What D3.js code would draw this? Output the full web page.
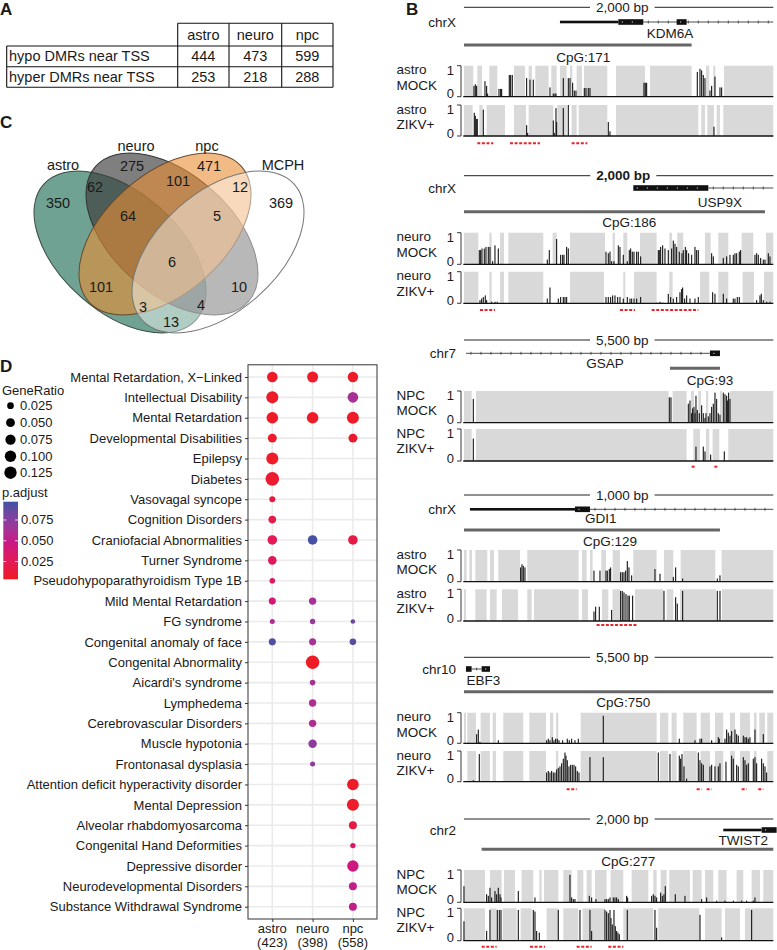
<!DOCTYPE html>
<html><head><meta charset="utf-8">
<script src="https://cdn.jsdelivr.net/npm/d3@7"></script>
<style>
body{margin:0;background:#fff}
svg{display:block}
text{font-family:"Liberation Sans",Arial,Helvetica,sans-serif;fill:#1a1a1a}
</style>
</head><body>
<script>
// ================= DATA =================
// Panel A
const tableCols = ["astro","neuro","npc"];
const tableRows = ["hypo DMRs near TSS","hyper DMRs near TSS"];
const tableVals = [[444,473,599],[253,218,288]];

// Panel C (Venn)
const vennSets = ["astro","neuro","npc","MCPH"];
const vennCounts = [350,275,471,369,62,101,12,64,5,6,101,10,3,4,13];

// Panel D (enrichment dot plot)
const termLabels = ["Mental Retardation, X\u2212Linked","Intellectual Disability","Mental Retardation","Developmental Disabilities","Epilepsy","Diabetes","Vasovagal syncope","Cognition Disorders","Craniofacial Abnormalities","Turner Syndrome","Pseudohypoparathyroidism Type 1B","Mild Mental Retardation","FG syndrome","Congenital anomaly of face","Congenital Abnormality","Aicardi's syndrome","Lymphedema","Cerebrovascular Disorders","Muscle hypotonia","Frontonasal dysplasia","Attention deficit hyperactivity disorder","Mental Depression","Alveolar rhabdomyosarcoma","Congenital Hand Deformities","Depressive disorder","Neurodevelopmental Disorders","Substance Withdrawal Syndrome"];
const groupLabels = ["astro","neuro","npc"];
const groupCounts = ["(423)","(398)","(558)"];
const astroRatio = [0.082,0.115,0.105,0.052,0.115,0.160,0.020,0.034,0.062,0.046,0.018,0.028,0.016,0.028,null,null,null,null,null,null,null,null,null,null,null,null,null];
const astroPadj  = [0.005,0.005,0.005,0.006,0.005,0.009,0.014,0.020,0.025,0.030,0.032,0.040,0.058,0.093,null,null,null,null,null,null,null,null,null,null,null,null,null];
const neuroRatio = [0.090,null,0.105,null,null,null,null,null,0.062,null,null,0.031,0.017,0.028,0.154,0.018,0.031,0.031,0.044,0.016,null,null,null,null,null,null,null];
const neuroPadj  = [0.005,null,0.005,null,null,null,null,null,0.095,null,null,0.062,0.070,0.062,0.004,0.063,0.060,0.060,0.072,0.072,null,null,null,null,null,null,null];
const npcRatio   = [0.078,0.082,0.115,0.052,null,null,null,null,0.062,null,null,null,0.0152,0.024,null,null,null,null,null,null,0.105,0.115,0.038,0.017,0.100,0.038,0.038];
const npcPadj    = [0.005,0.062,0.005,0.008,null,null,null,null,0.018,null,null,null,0.085,0.090,null,null,null,null,null,null,0.005,0.006,0.018,0.035,0.045,0.052,0.052];
const sizeBreaks = [0.025,0.050,0.075,0.100,0.125];
const colorBreaks = [0.025,0.050,0.075];

// Panel B (genome browser loci); positions in relative genomic units
const lociChrom = ["chrX","chrX","chr7","chrX","chr10","chr2"];
const lociScale = ["2,000 bp","2,000 bp","5,500 bp","1,000 bp","5,500 bp","2,000 bp"];
const lociGene  = ["KDM6A","USP9X","GSAP","GDI1","EBF3","TWIST2"];
const lociCpG   = ["CpG:171","CpG:186","CpG:93","CpG:129","CpG:750","CpG:277"];
const lociCell  = ["astro","neuro","NPC","astro","neuro","NPC"];
const cpgRange  = [[222,905],[222,1125],[840,990],[222,990],[222,1150],[275,1150]];
const geneUTR   = [[[510,685]],[],[],[[240,555]],[],[[1000,1115]]];
const geneExon  = [[[685,760],[860,890]],[[730,955]],[[960,990]],[[555,600]],[[228,245],[275,300]],[[1115,1160]]];
const geneIntron= [[[760,1150]],[[955,1150]],[[228,960]],[[600,1150]],[[245,275]],[]];
const mockBands = [
 [[222,250],[262,276],[298,322],[372,405],[416,426],[436,476],[484,500],[510,530],[540,547],[560,576],[582,652],[678,765],[780,905],[948,958],[970,976],[1002,1150]],
 [[222,265],[298,305],[330,342],[355,460],[488,500],[540,645],[668,675],[700,712],[750,800],[838,846],[862,880],[945,962],[985,1015],[1055,1090],[1128,1150]],
 [[222,245],[258,836],[848,890],[903,912],[925,933],[948,955],[990,996],[1020,1150]],
 [[222,230],[238,246],[256,292],[300,312],[325,390],[412,566],[576,590],[600,608],[634,648],[668,690],[730,800],[822,850],[872,976],[995,1150]],
 [[222,228],[232,258],[272,300],[308,318],[340,400],[418,468],[480,490],[498,505],[572,800],[810,835],[845,860],[880,920],[932,960],[975,1000],[1020,1035],[1050,1080],[1092,1100],[1108,1125],[1132,1150]],
 [[222,285],[300,335],[342,375],[395,430],[448,455],[462,505],[520,545],[562,580],[590,605],[615,650],[662,700],[725,775],[790,800],[812,830],[838,900],[908,935],[945,970],[985,1010],[1040,1060],[1085,1110],[1120,1150]]
];
const zikvBands = [
 [[222,248],[268,278],[290,345],[372,408],[416,490],[502,530],[545,560],[566,652],[678,925],[934,945],[952,972],[980,990],[1000,1150]],
 [[222,265],[298,305],[330,342],[355,460],[540,642],[700,706],[732,800],[838,848],[930,958],[985,1015],[1058,1092],[1122,1150]],
 [[222,245],[258,890],[910,930],[948,958],[968,988],[1015,1150]],
 [[222,228],[256,290],[300,320],[336,384],[412,425],[432,566],[576,594],[636,655],[668,690],[735,820],[830,850],[870,978],[996,1150]],
 [[232,258],[272,300],[308,318],[340,400],[418,468],[498,505],[572,800],[810,835],[845,860],[880,920],[932,960],[975,1000],[1020,1035],[1050,1080],[1092,1100],[1132,1150]],
 [[222,285],[300,320],[338,380],[392,425],[470,505],[520,565],[578,645],[700,790],[805,928],[945,995],[1005,1050],[1065,1150]]
];
const mockBars = [
 [[252,0.35],[256,0.4],[260,0.35],[285,0.5],[290,0.35],[293,0.1],[327,0.25],[332,0.25],[335,0.25],[358,0.7],[362,0.7],[367,0.7],[410,0.6],[420,0.55],[430,0.55],[480,0.3],[490,0.1],[495,0.1],[498,0.1],[520,0.6],[535,0.6],[540,0.6],[548,0.45],[553,0.2],[558,0.2],[583,0.28],[588,0.28],[595,0.28],[600,0.28],[762,0.45],[766,0.45],[770,0.45],[922,0.8],[930,0.9],[935,0.85],[940,0.7],[945,0.6],[960,0.2],[965,0.35],[975,0.65],[990,0.3],[995,0.3]],
 [[268,0.45],[272,0.45],[276,0.5],[283,0.5],[288,0.55],[295,0.55],[300,0.55],[308,0.1],[315,0.6],[325,0.5],[472,0.15],[478,0.45],[500,0.8],[512,0.3],[518,0.3],[522,0.3],[530,0.55],[535,0.5],[648,0.4],[655,0.35],[660,0.4],[665,0.1],[672,0.1],[685,0.6],[690,0.55],[700,0.3],[712,0.1],[718,0.45],[722,0.5],[727,0.4],[732,0.4],[740,0.4],[745,0.4],[752,0.25],[805,0.45],[808,0.45],[812,0.55],[818,0.6],[825,0.5],[835,0.45],[845,0.5],[850,0.75],[855,0.65],[860,0.55],[868,0.4],[876,0.35],[880,0.45],[886,0.55],[890,0.45],[896,0.35],[905,0.3],[915,0.55],[920,0.45],[925,0.45],[965,0.35],[970,0.25],[1000,0.2],[1010,0.25],[1020,0.3],[1030,0.3],[1035,0.35],[1040,0.35],[1048,0.4],[1052,0.45],[1095,0.3],[1100,0.35],[1105,0.3],[1112,0.2],[1120,0.15],[1125,0.15],[1135,0.35],[1140,0.25]],
 [[250,0.75],[838,0.8],[843,0.8],[895,0.6],[900,0.7],[905,0.3],[908,0.45],[912,0.5],[915,0.3],[918,0.85],[922,0.4],[928,0.3],[935,0.55],[940,0.3],[945,0.15],[948,0.3],[955,0.2],[960,0.3],[965,0.5],[970,0.6],[975,0.95],[980,0.75],[985,0.3],[990,0.25],[1000,0.95],[1005,0.9],[1010,0.85],[1013,0.7],[1016,0.95],[1020,0.75]],
 [[392,0.45],[396,0.55],[400,0.5],[405,0.45],[612,0.35],[630,0.35],[648,0.35],[652,0.35],[658,0.4],[662,0.45],[692,0.3],[697,0.3],[702,0.3],[707,0.35],[712,0.65],[717,0.45],[725,0.2],[795,0.4],[810,0.25],[850,0.15],[857,0.45],[878,0.1],[982,0.1],[990,0.2]],
 [[235,0.02],[260,0.3],[265,0.45],[270,0.05],[325,0.1],[470,0.1],[475,0.15],[480,0.1],[487,0.2],[492,0.1],[497,0.15],[502,0.15],[507,0.1],[518,0.1],[532,0.15],[538,0.1],[545,0.15],[555,0.1],[565,0.15],[640,0.9],[868,0.15],[915,0.1],[930,0.15],[935,0.15],[965,0.1],[985,0.2],[988,0.15],[1005,0.15],[1010,0.45],[1015,0.35],[1020,0.25],[1025,0.4],[1035,0.45],[1040,0.3],[1045,0.25],[1060,0.25],[1065,0.2],[1070,0.2],[1075,0.15],[1080,0.2],[1095,0.45],[1120,0.3]],
 [[222,0.5],[290,0.25],[295,0.2],[300,0.45],[305,0.15],[315,0.35],[320,0.25],[325,0.45],[330,0.25],[333,0.15],[385,0.35],[435,0.15],[540,0.85],[545,0.15],[550,0.1],[555,0.1],[598,0.2],[605,0.15],[618,0.1],[645,0.1],[650,0.1],[655,0.1],[660,0.15],[670,0.15],[675,0.15],[680,0.15],[685,0.1],[710,0.2],[713,0.15],[785,0.2],[790,0.25],[795,0.2],[800,0.15],[812,0.3],[817,0.2],[822,0.25],[826,0.5],[856,0.25],[885,0.2],[935,0.1],[950,0.15],[980,0.05],[1005,0.05],[1030,0.05],[1055,0.05],[1070,0.05],[1090,0.05],[1095,0.15]]
];
const zikvBars = [
 [[253,0.75],[256,0.65],[259,0.55],[262,0.55],[280,0.85],[285,0.02],[410,0.35],[413,0.1],[490,0.5],[493,0.1],[498,0.9],[500,0.45],[520,0.9],[535,1.0],[655,0.45],[660,0.15],[972,0.3]],
 [[270,0.1],[275,0.15],[280,0.2],[286,0.25],[290,0.1],[305,0.05],[315,0.05],[322,0.05],[472,0.15],[480,0.5],[505,0.15],[512,0.2],[520,0.2],[525,0.2],[530,0.2],[648,0.2],[655,0.2],[662,0.2],[668,0.25],[675,0.25],[683,0.2],[690,0.2],[700,0.15],[712,0.2],[720,0.15],[725,0.15],[732,0.15],[740,0.15],[752,0.2],[800,0.02],[810,0.05],[818,0.02],[835,0.3],[842,0.2],[850,0.15],[860,0.2],[870,0.35],[875,0.45],[878,0.5],[884,0.15],[890,0.25],[900,0.15],[915,0.15],[925,0.2],[968,0.35],[975,0.3],[1000,0.3],[1010,0.15],[1030,0.15],[1035,0.15],[1042,0.2],[1048,0.2],[1100,0.1],[1110,0.25],[1114,0.3],[1120,0.1],[1130,0.05],[1140,0.05]],
 [[250,0.7],[918,0.45],[940,0.45],[945,0.3],[962,0.2],[1003,0.3]],
 [[612,0.3],[617,0.45],[628,0.45],[665,0.35],[692,0.95],[697,0.95],[702,0.9],[708,0.85],[714,0.8],[718,0.8],[728,0.8],[822,0.95],[857,0.75],[862,0.55],[878,0.95],[982,0.95],[990,0.95]],
 [[250,0.05],[268,0.9],[285,0.02],[292,0.02],[300,0.02],[470,0.3],[475,0.35],[480,0.3],[485,0.35],[490,0.3],[495,0.3],[500,0.4],[505,0.45],[510,0.5],[515,0.6],[520,0.75],[525,0.95],[528,0.85],[532,0.7],[537,0.5],[542,0.55],[547,0.55],[552,0.55],[557,0.5],[562,0.35],[567,0.3],[600,0.8],[640,0.8],[805,0.95],[840,0.9],[868,0.85],[872,0.75],[876,0.9],[882,0.5],[890,0.1],[925,0.95],[930,0.7],[935,0.6],[940,0.55],[960,0.5],[965,0.55],[975,0.5],[985,0.5],[990,0.6],[1008,0.65],[1025,0.85],[1030,0.75],[1040,0.55],[1045,0.5],[1060,0.8],[1065,0.7],[1070,0.55],[1075,0.6],[1090,0.75],[1095,0.8],[1100,0.6],[1115,0.75],[1120,0.6],[1125,0.5],[1130,0.3]],
 [[222,0.6],[290,0.3],[300,0.95],[322,0.95],[328,0.95],[333,0.95],[385,0.95],[430,0.95],[435,0.9],[440,0.3],[448,0.25],[505,0.95],[570,0.95],[600,0.95],[605,0.3],[645,0.95],[650,0.9],[655,0.85],[660,0.95],[663,0.7],[667,0.5],[672,0.95],[676,0.45],[680,0.3],[684,0.25],[688,0.2],[712,0.95],[795,0.95],[800,0.4],[930,0.8],[995,0.1],[1085,0.95]]
];
const dmrMarks = [
 [[262,310],[360,450],[545,592]],
 [[270,315],[690,735],[785,925]],
 [[905,917],[973,985]],
 [[620,740]],
 [[530,560],[920,935],[950,965],[1055,1070],[1105,1120]],
 [[275,320],[420,465],[560,605],[655,700]]
];

// ================= DRAWING =================
const INK = "#1a1a1a";
const svg = d3.select("body").append("svg").attr("width",777).attr("height",950);

// panel letters
const letters = [["A",0,15],["B",406,15],["C",0,128],["D",0,372]];
svg.selectAll("text.letter").data(letters).join("text").attr("class","letter")
  .attr("x",d=>d[1]).attr("y",d=>d[2]).text(d=>d[0])
  .style("font-size","17px").style("font-weight","bold");

// ---------- Panel A ----------
(function(){
  const g = svg.append("g");
  const xe = [6.7,177.7,229,281.7,333];
  const ye = [23.3,46,66.7,87.3];
  const ln = (x1,y1,x2,y2)=>g.append("line").attr("x1",x1).attr("y1",y1).attr("x2",x2).attr("y2",y2).attr("stroke","#111").attr("stroke-width",1.1);
  ln(xe[1],ye[0],xe[4],ye[0]);
  for(let i=1;i<4;i++) ln(xe[0],ye[i],xe[4],ye[i]);
  ln(xe[0],ye[1],xe[0],ye[3]);
  for(let j=1;j<5;j++) ln(xe[j],ye[0],xe[j],ye[3]);
  const fs = "14.5px";
  tableCols.forEach((c,j)=>{
    g.append("text").attr("x",(xe[j+1]+xe[j+2])/2).attr("y",40).attr("text-anchor","middle").style("font-size",fs).text(c);
  });
  const rowBase=[61,81.7];
  tableRows.forEach((r,i)=>{
    g.append("text").attr("x",9).attr("y",rowBase[i]).style("font-size",fs).text(r);
    tableVals[i].forEach((v,j)=>{
      g.append("text").attr("x",(xe[j+1]+xe[j+2])/2).attr("y",rowBase[i]).attr("text-anchor","middle").style("font-size",fs).text(v);
    });
  });
})();

// ---------- Panel C (Venn) ----------
(function(){
  const g = svg.append("g");
  const A=102, B=59.6;
  const ell = [
    {cx:120,cy:252,rot:41.5,fill:"#2b765f",op:0.68,stroke:"#3a4a44"},
    {cx:172,cy:234,rot:41.5,fill:"#3a3a3a",op:0.65,stroke:"#333"},
    {cx:165,cy:234,rot:-41.5,fill:"#e98d33",op:0.6,stroke:"#6a4a2a"},
    {cx:218,cy:252,rot:-41.5,fill:"#ffffff",op:0.45,stroke:"#777"}
  ];
  g.selectAll("ellipse").data(ell).join("ellipse")
    .attr("cx",d=>d.cx).attr("cy",d=>d.cy).attr("rx",A).attr("ry",B)
    .attr("transform",d=>`rotate(${d.rot},${d.cx},${d.cy})`)
    .attr("fill",d=>d.fill).attr("fill-opacity",d=>d.op)
    .attr("stroke",d=>d.stroke).attr("stroke-width",1);
  const setPos = [[63,165],[136,146],[207,146],[283,165]];
  vennSets.forEach((s,i)=>g.append("text").attr("x",setPos[i][0]).attr("y",setPos[i][1]).attr("text-anchor","middle").attr("dominant-baseline","central").style("font-size","14.5px").text(s));
  const regPos = [[58,203],[132,166],[209,166],[281,203],[95,187],[178,181],[240,187],[128,216],[217,216],[172,262],[101,287],[239,287],[143,307],[201,305],[171,322]];
  vennCounts.forEach((v,i)=>g.append("text").attr("x",regPos[i][0]).attr("y",regPos[i][1]).attr("text-anchor","middle").attr("dominant-baseline","central").style("font-size","14.5px").text(v));
})();

// ---------- Panel D ----------
(function(){
  const g = svg.append("g");
  const px0=248, px1=377, py0=364.8, py1=919;
  const yD = d3.scalePoint().domain(termLabels).range([377,906.7]);
  const xD = d3.scalePoint().domain(groupLabels).range([272.3,352.9]);
  const rMin=0.015, rMax=0.16;
  const rScale = d3.scaleLinear().domain([0,1]).range([2.13,6.8]);
  const size = v => rScale(Math.sqrt(Math.max(0,(v-rMin)/(rMax-rMin))));
  const pMin=0.0037, pMax=0.097;
  const col = d3.scaleLinear().domain(d3.range(5).map(i=>pMin+(pMax-pMin)*i/4))
     .range(["#ed1c24","#e3195a","#c41a8a","#8b3c9e","#3d52a4"]).interpolate(d3.interpolateLab);
  // grid
  g.selectAll("line.gh").data(termLabels).join("line").attr("x1",px0).attr("x2",px1)
    .attr("y1",d=>yD(d)).attr("y2",d=>yD(d)).attr("stroke","#ebebeb").attr("stroke-width",1.6);
  g.selectAll("line.gv").data(groupLabels).join("line").attr("y1",py0).attr("y2",py1)
    .attr("x1",d=>xD(d)).attr("x2",d=>xD(d)).attr("stroke","#ebebeb").attr("stroke-width",1.6);
  // dots
  const series = [[astroRatio,astroPadj],[neuroRatio,neuroPadj],[npcRatio,npcPadj]];
  const dots = [];
  series.forEach((s,gi)=>s[0].forEach((r,ti)=>{ if(r!=null) dots.push({g:groupLabels[gi],t:termLabels[ti],r:r,p:s[1][ti]}); }));
  g.selectAll("circle.dot").data(dots).join("circle").attr("cx",d=>xD(d.g)).attr("cy",d=>yD(d.t))
    .attr("r",d=>size(d.r)).attr("fill",d=>col(d.p));
  g.append("rect").attr("x",px0).attr("y",py0).attr("width",px1-px0).attr("height",py1-py0)
    .attr("fill","none").attr("stroke","#333").attr("stroke-width",1);
  // axes
  const ay = g.append("g").attr("transform",`translate(${px0},0)`).call(d3.axisLeft(yD).tickSize(3).tickPadding(3));
  ay.select(".domain").remove();
  ay.selectAll("line").attr("stroke","#333");
  ay.selectAll("text").style("font-size","13px").attr("fill",INK).style("font-family",'"Liberation Sans",Arial,sans-serif');
  const ax = g.append("g").attr("transform",`translate(0,${py1})`).call(d3.axisBottom(xD).tickSize(3).tickPadding(3));
  ax.select(".domain").remove();
  ax.selectAll("line").attr("stroke","#333");
  ax.selectAll("text").remove();
  groupLabels.forEach((gl,i)=>{
    const t = g.append("text").attr("x",xD(gl)).attr("y",932.5).attr("text-anchor","middle").style("font-size","13px");
    t.append("tspan").attr("x",xD(gl)).text(gl);
    t.append("tspan").attr("x",xD(gl)).attr("dy",14.5).text(groupCounts[i]);
  });
  // size legend
  g.append("text").attr("x",2).attr("y",390).attr("dominant-baseline","central").style("font-size","13px").text("GeneRatio");
  const ly = [405.7,422.7,439.7,456.3,472.7];
  sizeBreaks.forEach((b,i)=>{
    g.append("circle").attr("cx",10.5).attr("cy",ly[i]).attr("r",size(b)).attr("fill","#000");
    g.append("text").attr("x",20).attr("y",ly[i]).attr("dominant-baseline","central").style("font-size","13px").text(b.toFixed(3));
  });
  // color legend
  g.append("text").attr("x",2).attr("y",492).attr("dominant-baseline","central").style("font-size","13px").text("p.adjust");
  const cy = d3.scaleLinear().domain([pMin,pMax]).range([579.3,501.7]);
  const grad = svg.append("defs").append("linearGradient").attr("id","pgrad").attr("x1",0).attr("y1",1).attr("x2",0).attr("y2",0);
  d3.range(21).forEach(i=>grad.append("stop").attr("offset",i/20).attr("stop-color",col(pMin+(pMax-pMin)*i/20)));
  g.append("rect").attr("x",3.3).attr("y",501.7).attr("width",14.7).attr("height",77.6).attr("fill","url(#pgrad)");
  colorBreaks.forEach(b=>{
    g.append("line").attr("x1",3.3).attr("x2",6.3).attr("y1",cy(b)).attr("y2",cy(b)).attr("stroke","#fff").attr("stroke-width",0.8);
    g.append("line").attr("x1",15).attr("x2",18).attr("y1",cy(b)).attr("y2",cy(b)).attr("stroke","#fff").attr("stroke-width",0.8);
    g.append("text").attr("x",21).attr("y",cy(b)).attr("dominant-baseline","central").style("font-size","13px").text(b.toFixed(3));
  });
})();

// ---------- Panel B ----------
(function(){
  const g = svg.append("g");
  const xs = d3.scaleLinear().domain([220,1150]).range([463.3,773.3]);
  const LB = [
    {ys:7.3, chrom:22, gname:33, cpg:45, cpgT:57, m:[65.7,96.7], z:[105,136], red:143.3, gx:840, cx:580, sx:697, bold:false},
    {ys:175.7, chrom:188, gname:202.7, cpg:211.7, cpgT:222, m:[232.7,264.3], z:[271.7,303.3], red:310, gx:990, cx:718, sx:700, bold:true},
    {ys:340, chrom:353.3, gname:363, cpg:368.3, cpgT:380.7, m:[391,422.7], z:[429,461], red:466.7, gx:645, cx:960, sx:697, bold:false},
    {ys:495, chrom:509.3, gname:518.3, cpg:530, cpgT:541, m:[550,581.7], z:[589.3,621], red:625, gx:632, cx:660, sx:697, bold:false},
    {ys:657.3, chrom:669, gname:680, cpg:691.7, cpgT:702, m:[712.7,743.3], z:[751,781.7], red:789.3, gx:280, cx:700, sx:697, bold:false},
    {ys:819, chrom:830, gname:840.7, cpg:849.3, cpgT:861, m:[870,902.3], z:[908.3,940.7], red:946.7, gx:1060, cx:715, sx:697, bold:false}
  ];
  LB.forEach((L,i)=>{
    // scale bar
    const st = g.append("text").attr("x",xs(L.sx)).attr("y",L.ys).attr("text-anchor","middle").attr("dominant-baseline","central")
      .style("font-size","13.5px").style("font-weight",L.bold?"bold":"normal").text(lociScale[i]);
    const bb = st.node().getBBox();
    g.append("line").attr("x1",xs(222)).attr("x2",bb.x-6).attr("y1",L.ys).attr("y2",L.ys).attr("stroke","#222").attr("stroke-width",1);
    g.append("line").attr("x1",bb.x+bb.width+6).attr("x2",xs(1150)).attr("y1",L.ys).attr("y2",L.ys).attr("stroke","#222").attr("stroke-width",1);
    // chrom
    g.append("text").attr("x",456).attr("y",L.chrom).attr("text-anchor","end").attr("dominant-baseline","central").style("font-size","13.5px").text(lociChrom[i]);
    // gene model
    geneIntron[i].forEach(s=>{
      g.append("line").attr("x1",xs(s[0])).attr("x2",xs(s[1])).attr("y1",L.chrom).attr("y2",L.chrom).attr("stroke","#222").attr("stroke-width",0.8);
      for(let p=s[0]+15;p<s[1];p+=30){
        g.append("line").attr("x1",xs(p)).attr("x2",xs(p)).attr("y1",L.chrom-1.5).attr("y2",L.chrom+1.5).attr("stroke","#222").attr("stroke-width",0.7);
      }
    });
    geneUTR[i].forEach(s=>g.append("rect").attr("x",xs(s[0])).attr("width",xs(s[1])-xs(s[0])).attr("y",L.chrom-1.3).attr("height",2.6).attr("fill","#111"));
    geneExon[i].forEach(s=>{
      g.append("rect").attr("x",xs(s[0])).attr("width",xs(s[1])-xs(s[0])).attr("y",L.chrom-2.8).attr("height",5.6).attr("fill","#111");
      for(let p=s[0]+12;p<s[1]-6;p+=30){
        g.append("rect").attr("x",xs(p)-0.5).attr("width",1).attr("y",L.chrom-0.5).attr("height",1).attr("fill","#fff");
      }
    });
    g.append("text").attr("x",xs(L.gx)).attr("y",L.gname).attr("text-anchor","middle").attr("dominant-baseline","central").style("font-size","13.5px").text(lociGene[i]);
    // CpG island
    g.append("line").attr("x1",xs(cpgRange[i][0])).attr("x2",xs(cpgRange[i][1])).attr("y1",L.cpg).attr("y2",L.cpg).attr("stroke","#666").attr("stroke-width",3);
    g.append("text").attr("x",xs(L.cx)).attr("y",L.cpgT).attr("text-anchor","middle").attr("dominant-baseline","central").style("font-size","13.5px").text(lociCpG[i]);
    // tracks
    [[L.m,mockBands[i],mockBars[i],"MOCK"],[L.z,zikvBands[i],zikvBars[i],"ZIKV+"]].forEach(tr=>{
      const [top,base] = tr[0];
      const yv = d3.scaleLinear().domain([0,1]).range([base,top]);
      g.append("g").selectAll("rect").data(tr[1]).join("rect")
        .attr("x",d=>xs(d[0])).attr("width",d=>xs(d[1])-xs(d[0])).attr("y",top).attr("height",base-top).attr("fill","#d9d9d9");
      g.append("g").selectAll("rect").data(tr[2]).join("rect")
        .attr("x",d=>xs(d[0])-0.55).attr("width",1.1).attr("y",d=>yv(d[1])).attr("height",d=>base-yv(d[1])).attr("fill","#151515");
      g.append("line").attr("x1",xs(220)).attr("x2",xs(1150)).attr("y1",base).attr("y2",base).attr("stroke","#111").attr("stroke-width",1.3);
      g.append("path").attr("d",`M457,${top}H461V${base}H457`).attr("fill","none").attr("stroke","#222").attr("stroke-width",0.9);
      g.append("text").attr("x",454).attr("y",top+4.5).attr("text-anchor","end").attr("dominant-baseline","central").style("font-size","13px").text("1");
      g.append("text").attr("x",454).attr("y",base-3).attr("text-anchor","end").attr("dominant-baseline","central").style("font-size","13px").text("0");
      g.append("text").attr("x",396.5).attr("y",top+4).attr("dominant-baseline","central").style("font-size","13.5px").text(lociCell[i]);
      g.append("text").attr("x",396.5).attr("y",top+19.5).attr("dominant-baseline","central").style("font-size","13.5px").text(tr[3]);
    });
    // DMR marks
    dmrMarks[i].forEach(s=>g.append("line").attr("x1",xs(s[0])).attr("x2",xs(s[1])).attr("y1",L.red).attr("y2",L.red)
      .attr("stroke","#e8232a").attr("stroke-width",2).attr("stroke-dasharray","3,1.6"));
  });
})();
</script>
</body></html>
